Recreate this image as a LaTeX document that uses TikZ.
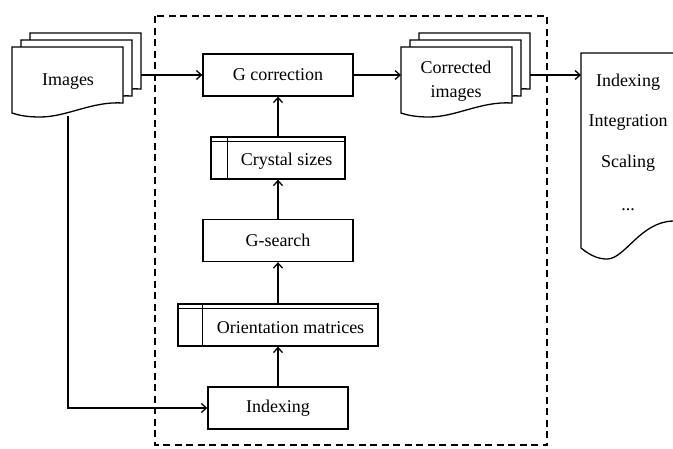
\documentclass[tikz,border=0pt]{standalone}
\usepackage{fontspec}
\setmainfont{Liberation Serif}
\usetikzlibrary{arrows.meta}
\begin{document}
\begin{tikzpicture}[x=1pt,y=-1pt,
  line width=1.3pt,
  every node/.style={font=\fontsize{18}{21}\selectfont},
  box/.style={draw,minimum width=150pt,minimum height=42pt,inner sep=0pt},
  store/.style={draw,inner sep=0pt},
  docline/.style={draw,fill=white,line width=1.3pt},
  txt/.style={inner sep=0pt},
  conn/.style={-{Straight Barb[length=5pt,width=9pt,line width=1.3pt]}}
]
\useasboundingbox (0,0) rectangle (673,448);
\clip (0,0) rectangle (673,448);
\newcommand\mydoc[2]{\path[docline, shift={(#1,#2)}] (0,0) -- (111,0) -- (111,56) .. controls (80,54) and (55,70) .. (28,70) .. controls (14,70) and (6,68) .. (0,66) -- cycle;}
% dashed region
\draw[dash pattern=on 7pt off 4.5pt, line width=1.2pt] (155,16) rectangle (547,445);
% Images stack
\mydoc{30}{33}
\mydoc{21}{40}
\mydoc{12}{47}
\node[txt] (images) at (68,82) {Images};
\coordinate (imgout) at (141,75);
\coordinate (imgbot) at (68,116);
\coordinate (imgcorner) at (68,408);
% Corrected images stack
\mydoc{419}{33}
\mydoc{410}{40}
\mydoc{401}{47}
\node[txt,align=center] (corr) at (456,81) {Corrected\\[3pt]images};
\coordinate (corrin) at (401,75);
\coordinate (corrout) at (530,75);
% right document
\path[docline] (581,248) -- (581,53) -- (700,53) -- (700,221) -- (673,221) .. controls (640,222) and (625,259) .. (607,259) .. controls (600,259) and (592,257) .. (581,248) -- cycle;
\coordinate (downin) at (581,75);
\node[txt] (d1) at (628,82) {Indexing};
\node[txt] (d2) at (628,122) {Integration};
\node[txt] (d3) at (628,163) {Scaling};
\node[txt] (d4) at (628,210) {...};
% boxes
\node[box] (gcorr) at (278,75) {G correction};
\node[store,minimum width=134pt,minimum height=42pt] (crys) at (278,158) {};
\draw (crys.north west) ++(0,5) -- ++(134,0);
\draw (crys.north west) ++(17,0) -- ++(0,42);
\node[txt] (crystxt) at (286.5,161) {Crystal sizes};
\node[box] (gsearch) at (278,240.5) {G-search};
\node[store,minimum width=200pt,minimum height=42pt] (orient) at (278,325) {};
\draw (orient.north west) ++(0,5) -- ++(200,0);
\draw (orient.north west) ++(25,0) -- ++(0,42);
\node[txt] (orienttxt) at (290.5,328) {Orientation matrices};
\node[box,minimum width=140pt] (idx) at (278,408) {Indexing};
% connectors
\draw[conn] (imgout) -- (gcorr.west);
\draw[conn] (gcorr.east) -- (corrin);
\draw[conn] (corrout) -- (downin);
\draw[conn] (idx.north) -- (orient.south);
\draw[conn] (orient.north) -- (gsearch.south);
\draw[conn] (gsearch.north) -- (crys.south);
\draw[conn] (crys.north) -- (gcorr.south);
\draw[conn] (imgbot) -- (imgcorner) -- (idx.west);
\end{tikzpicture}
\end{document}
